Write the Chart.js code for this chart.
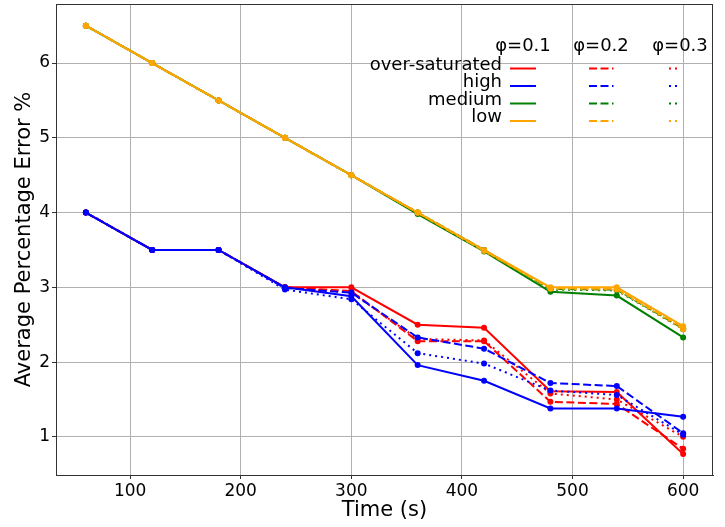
<!DOCTYPE html>
<html>
<head>
<meta charset="utf-8">
<title>Average Percentage Error</title>
<script src="https://cdn.jsdelivr.net/npm/chart.js@4/dist/chart.umd.min.js"></script>
<style>
  body { margin: 0; background: #fff; }
  canvas { display: block; }
</style>
</head>
<body>
<canvas id="grafico" width="725" height="527"></canvas>
<script>
// time axis (s)
const tempos = [60, 120, 180, 240, 300, 360, 420, 480, 540, 600];
const xTicks = [100, 200, 300, 400, 500, 600];
const yTicks = [1, 2, 3, 4, 5, 6];

const categorias = ['over-saturated', 'high', 'medium', 'low'];
const phis = ['φ=0.1', 'φ=0.2', 'φ=0.3'];

// over-saturated
const overPhi1 = [4.0, 3.5, 3.5, 3.0, 3.0, 2.50, 2.46, 1.61, 1.60, 0.77];
const overPhi2 = [4.0, 3.5, 3.5, 3.0, 2.95, 2.28, 2.28, 1.47, 1.44, 0.84];
const overPhi3 = [4.0, 3.5, 3.5, 3.0, 2.93, 2.31, 2.29, 1.58, 1.50, 1.00];
// high
const highPhi1 = [4.0, 3.5, 3.5, 3.0, 2.88, 1.96, 1.75, 1.38, 1.38, 1.27];
const highPhi2 = [4.0, 3.5, 3.5, 2.99, 2.93, 2.33, 2.18, 1.72, 1.68, 1.05];
const highPhi3 = [4.0, 3.5, 3.5, 2.97, 2.84, 2.12, 1.98, 1.62, 1.56, 1.03];
// medium
const medPhi1 = [6.5, 6.0, 5.5, 5.0, 4.5, 3.98, 3.48, 2.94, 2.89, 2.33];
const medPhi2 = [6.5, 6.0, 5.5, 5.0, 4.5, 4.0, 3.5, 2.98, 2.97, 2.45];
const medPhi3 = [6.5, 6.0, 5.5, 5.0, 4.5, 4.0, 3.5, 2.97, 2.96, 2.44];
// low
const lowPhi1 = [6.5, 6.0, 5.5, 5.0, 4.5, 4.0, 3.5, 3.0, 3.0, 2.48];
const lowPhi2 = [6.5, 6.0, 5.5, 5.0, 4.5, 4.0, 3.49, 2.99, 2.98, 2.46];
const lowPhi3 = [6.5, 6.0, 5.5, 5.0, 4.5, 4.0, 3.49, 2.98, 2.97, 2.44];

const series = [
  [overPhi1, overPhi2, overPhi3],
  [highPhi1, highPhi2, highPhi3],
  [medPhi1, medPhi2, medPhi3],
  [lowPhi1, lowPhi2, lowPhi3]
];
const cores = ['#ff0000', '#0000ff', '#008000', '#ffa500'];
const tracos = [[], [8, 3.5], [2, 4]];

const FONTE = "'DejaVu Sans', sans-serif";

const datasets = [];
series.forEach((grupo, c) => {
  grupo.forEach((valores, p) => {
    datasets.push({
      label: categorias[c] + ' ' + phis[p],
      data: valores.map((v, i) => ({ x: tempos[i], y: v })),
      borderColor: cores[c],
      backgroundColor: cores[c],
      pointBackgroundColor: cores[c],
      pointBorderWidth: 0,
      pointRadius: 3,
      borderWidth: 2,
      borderDash: tracos[p],
      fill: false,
      tension: 0,
      order: -datasets.length
    });
  });
});

// frame on all four sides + the phi/category legend table
const molduraLegenda = {
  id: 'molduraLegenda',
  afterDraw(chart) {
    const ctx = chart.ctx;
    const a = chart.chartArea;
    ctx.save();
    ctx.strokeStyle = '#333';
    ctx.lineWidth = 1;
    ctx.strokeRect(Math.round(a.left) + 0.5, Math.round(a.top) + 0.5,
      Math.round(a.right - a.left) - 1, Math.round(a.bottom - a.top));

    ctx.font = '18px ' + FONTE;
    ctx.fillStyle = '#000';
    ctx.textBaseline = 'alphabetic';
    const colX = [523, 601, 680];
    ctx.textAlign = 'center';
    phis.forEach((t, i) => ctx.fillText(t, colX[i], 51));

    const amostras = [[510, 536], [589, 613.5], [669, 677]];
    categorias.forEach((nome, r) => {
      const y = 68.5 + r * 17.5;
      ctx.textAlign = 'right';
      ctx.fillStyle = '#000';
      ctx.fillText(nome, 502, y + 1);
      amostras.forEach((seg, p) => {
        ctx.beginPath();
        ctx.setLineDash(tracos[p]);
        ctx.strokeStyle = cores[r];
        ctx.lineWidth = 2;
        ctx.moveTo(seg[0], y);
        ctx.lineTo(seg[1], y);
        ctx.stroke();
      });
    });
    ctx.restore();
  }
};

new Chart(document.getElementById('grafico'), {
  type: 'line',
  data: { datasets },
  plugins: [molduraLegenda],
  options: {
    responsive: false,
    animation: false,
    layout: { padding: { top: 3, right: 12, left: 0, bottom: 0 } },
    plugins: {
      legend: { display: false },
      tooltip: { enabled: false }
    },
    scales: {
      x: {
        type: 'linear',
        min: 33,
        max: 627,
        afterBuildTicks: s => { s.ticks = xTicks.map(v => ({ value: v })); },
        afterFit: s => { s.height = 52; s.paddingLeft = 0; s.paddingRight = 0; },
        grid: { color: '#b0b0b0', lineWidth: 1, tickLength: 4, tickColor: '#333' },
        border: { color: '#333', width: 1 },
        ticks: { color: '#000', font: { family: FONTE, size: 17 }, padding: 2, maxRotation: 0 },
        title: { display: true, text: 'Time (s)', color: '#000', font: { family: FONTE, size: 21 }, padding: { top: 0, bottom: 4 } }
      },
      y: {
        min: 0.49,
        max: 6.79,
        afterBuildTicks: s => { s.ticks = yTicks.map(v => ({ value: v })); },
        afterFit: s => { s.width = 56; s.paddingTop = 0; s.paddingBottom = 0; },
        grid: { color: '#b0b0b0', lineWidth: 1, tickLength: 4, tickColor: '#333' },
        border: { color: '#333', width: 1 },
        ticks: { color: '#000', font: { family: FONTE, size: 17 }, padding: 2 },
        title: { display: true, text: 'Average Percentage Error %', color: '#000', font: { family: FONTE, size: 21 }, padding: { top: 12, bottom: 0 } }
      }
    }
  }
});
</script>
</body>
</html>
